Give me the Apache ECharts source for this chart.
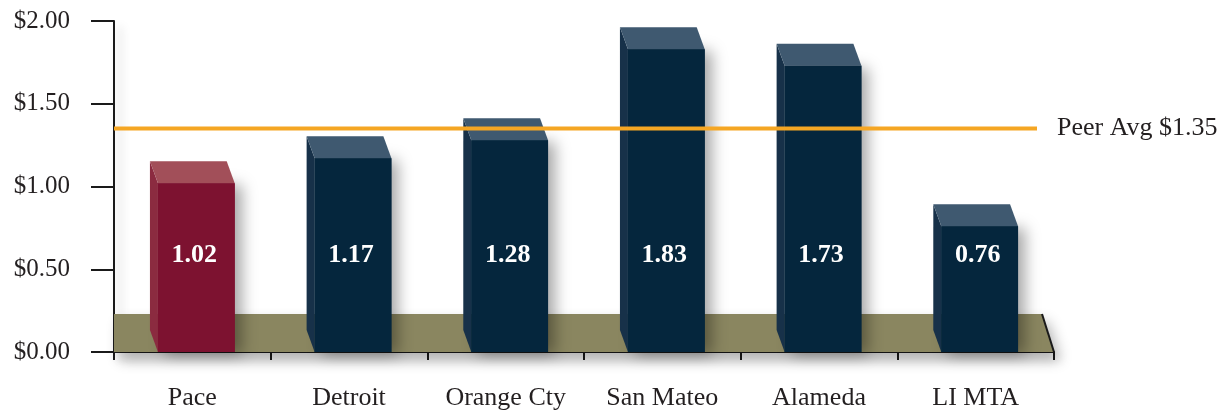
<!DOCTYPE html>
<html>
<head>
<meta charset="utf-8">
<script src="https://cdn.jsdelivr.net/npm/echarts@6/dist/echarts.min.js"></script>
<style>
html,body{margin:0;padding:0;background:#fff;}
#chart{width:1225px;height:413px;}
</style>
</head>
<body>
<div id="chart"></div>
<script>
// ---- data ----
var categories = ['Pace', 'Detroit', 'Orange Cty', 'San Mateo', 'Alameda', 'LI MTA'];
var values = [1.02, 1.17, 1.28, 1.83, 1.73, 0.76];
var peerAvg = 1.35;
var peerLabel = 'Peer Avg $1.35';
var yTicks = [0, 0.5, 1.0, 1.5, 2.0];

// ---- styling constants ----
var FONT = '"Liberation Serif", "DejaVu Serif", serif';
var LABEL_LEVEL = 0.586;   // y level of the value labels
var FLOOR_LEVEL = 0.23;    // height of the floor band
var DEPTH_X = 8, DEPTH_Y = 22;
var palettes = {
  hl:   { front: '#7D1230', top: '#A24F59', side: '#8B2B40' },
  base: { front: '#05263D', top: '#3F5970', side: '#173149' }
};

var chart = echarts.init(document.getElementById('chart'), null, { renderer: 'canvas' });

function renderFloor(params, api) {
  var cs = params.coordSys;
  var top = api.coord([0, api.value(1)])[1];
  var bot = cs.y + cs.height;
  var l = cs.x, r = cs.x + cs.width;
  return {
    type: 'group',
    children: [
      { type: 'polygon',
        shape: { points: [[l, top], [r - 12, top], [r, bot], [l, bot]] },
        style: { fill: '#8A8660', shadowColor: 'rgba(0,0,0,0.3)', shadowBlur: 14, shadowOffsetX: 6, shadowOffsetY: 8 } },
      { type: 'line',
        shape: { x1: r - 12, y1: top, x2: r, y2: bot },
        style: { stroke: '#1a1a1a', lineWidth: 2 } }
    ]
  };
}

function renderBar(params, api) {
  var i = api.value(0), v = api.value(1);
  var pal = i === 0 ? palettes.hl : palettes.base;
  var c = api.coord([i, v]);
  var bot = api.coord([i, 0])[1];
  var bw = api.size([1, 0])[0];
  var fw = bw * 0.49;
  var fl = c[0] - (fw + DEPTH_X) / 2 + DEPTH_X;
  var fr = fl + fw;
  var top = c[1];
  var ly = api.coord([i, LABEL_LEVEL])[1];
  return {
    type: 'group',
    children: [
      { type: 'rect',
        shape: { x: fl, y: top, width: fw, height: bot - top },
        style: { fill: pal.front, shadowColor: 'rgba(0,0,0,0.35)', shadowBlur: 14, shadowOffsetX: 7, shadowOffsetY: 2 } },
      { type: 'polygon',
        shape: { points: [[fl - DEPTH_X, top - DEPTH_Y], [fl, top], [fl, bot], [fl - DEPTH_X, bot - DEPTH_Y]] },
        style: { fill: pal.side } },
      { type: 'polygon',
        shape: { points: [[fl - DEPTH_X, top - DEPTH_Y], [fr - DEPTH_X, top - DEPTH_Y], [fr, top], [fl, top]] },
        style: { fill: pal.top } },
      { type: 'rect',
        shape: { x: fl, y: top, width: fw, height: bot - top },
        style: { fill: pal.front } },
      { type: 'text',
        x: (fl + fr) / 2 - 2, y: ly,
        style: { text: v.toFixed(2), fill: '#ffffff', font: 'bold 26px ' + FONT, align: 'center', verticalAlign: 'middle' } }
    ]
  };
}

function renderPeer(params, api) {
  var cs = params.coordSys;
  var y = api.coord([0, api.value(1)])[1];
  var l = cs.x, r = cs.x + cs.width;
  return {
    type: 'group',
    children: [
      { type: 'line', shape: { x1: l, y1: y, x2: r - 17, y2: y },
        style: { stroke: '#F5A623', lineWidth: 4 } },
      { type: 'text', x: r + 3, y: y,
        style: { text: peerLabel, fill: '#231F20', font: '26px ' + FONT, align: 'left', verticalAlign: 'middle' } }
    ]
  };
}

var axisShadow = { color: '#1a1a1a', width: 2, shadowColor: 'rgba(0,0,0,0.22)', shadowBlur: 10, shadowOffsetX: 6, shadowOffsetY: 6 };

chart.setOption({
  animation: false,
  backgroundColor: '#ffffff',
  grid: { left: 114, right: 171, top: 21, bottom: 61, containLabel: false },
  xAxis: {
    type: 'category',
    data: categories,
    boundaryGap: true,
    axisLine: { lineStyle: axisShadow },
    axisTick: { show: true, length: 8, interval: 0, lineStyle: { color: '#1a1a1a', width: 2 } },
    axisLabel: { color: '#231F20', fontFamily: FONT, fontSize: 26, margin: 33, interval: 0 },
    splitLine: { show: false }
  },
  yAxis: {
    type: 'value',
    min: yTicks[0],
    max: yTicks[yTicks.length - 1],
    interval: yTicks[1] - yTicks[0],
    axisLine: { show: true, lineStyle: axisShadow },
    axisTick: { show: true, length: 23, lineStyle: { color: '#1a1a1a', width: 2 } },
    axisLabel: { color: '#231F20', fontFamily: FONT, fontSize: 25, margin: 44,
      formatter: function (v) { return '$' + v.toFixed(2); } },
    splitLine: { show: false }
  },
  series: [
    { type: 'custom', z: 1, renderItem: renderFloor, data: [[0, FLOOR_LEVEL]], silent: true },
    { type: 'custom', z: 2, renderItem: renderBar, data: values.map(function (v, i) { return [i, v]; }) },
    { type: 'custom', z: 3, renderItem: renderPeer, data: [[0, peerAvg]], silent: true }
  ]
});
</script>
</body>
</html>
